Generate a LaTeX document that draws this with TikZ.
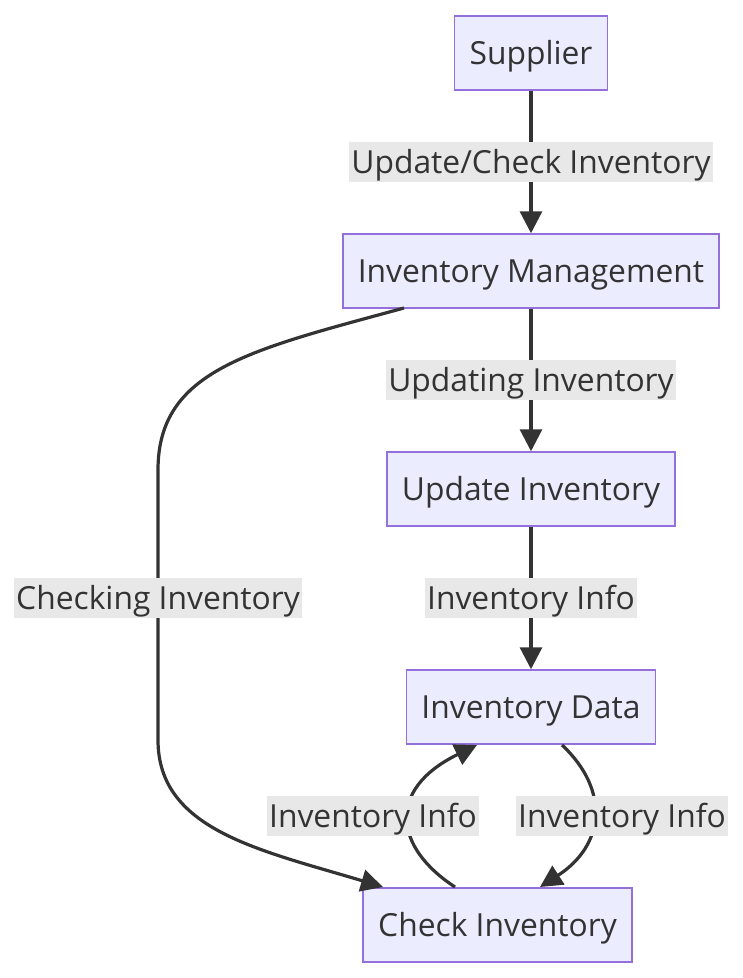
\documentclass[tikz,border=0pt]{standalone}
\usepackage{fontspec}
\setmainfont{Open Sans}
\usetikzlibrary{arrows.meta}
\definecolor{nodefill}{HTML}{ECECFF}
\definecolor{nodeline}{HTML}{9370DB}
\definecolor{edgecol}{HTML}{333333}
\definecolor{lblbg}{HTML}{E8E8E8}
\definecolor{txt}{HTML}{333333}
\begin{document}
\begin{tikzpicture}[x=1pt,y=-1pt,
  box/.style={draw=nodeline,fill=nodefill,line width=1.5pt,minimum height=74pt,inner xsep=15pt,
    font=\fontsize{31.8}{38}\selectfont,text=txt,text height=27pt,text depth=4pt},
  lbl/.style={fill=lblbg,inner xsep=2pt,inner ysep=0pt,minimum height=40pt,
    font=\fontsize{31.8}{38}\selectfont,text=txt,text height=27pt,text depth=4pt},
  edge/.style={draw=edgecol,line width=3.2pt,-{Triangle[length=22pt,width=22pt]}}]
\useasboundingbox (0,0) rectangle (743,978);
\node[box] (sup) at (531,53) {Supplier};
\node[box] (im) at (531,271) {Inventory Management};
\node[box] (ui) at (531,489) {Update Inventory};
\node[box] (id) at (531,707) {Inventory Data};
\node[box] (ci) at (497.5,925) {Check Inventory};
\coordinate (imbl) at (404,308);
\coordinate (cil) at (383,887);
\coordinate (cia) at (455,887);
\coordinate (cib) at (540,887);
\coordinate (ida) at (477,745);
\coordinate (idb) at (562,745);
\draw[edge] (sup) -- (im);
\draw[edge] (im) -- (ui);
\draw[edge] (ui) -- (id);
\draw[edge] (imbl) .. controls (250,350) and (158,370) .. (158,470) -- (158,740) .. controls (158,830) and (260,850) .. (cil);
\draw[edge] (cia) .. controls (395,848) and (385,790) .. (ida);
\draw[edge] (idb) .. controls (610,790) and (605,845) .. (cib);
\node[lbl] (l1) at (531,162) {Update/Check Inventory};
\node[lbl] (l2) at (531,380) {Updating Inventory};
\node[lbl] (l3) at (531,598) {Inventory Info};
\node[lbl] (l4) at (158,598) {Checking Inventory};
\node[lbl] (l5) at (373,816) {Inventory Info};
\node[lbl] (l6) at (622,816) {Inventory Info};
\end{tikzpicture}
\end{document}
